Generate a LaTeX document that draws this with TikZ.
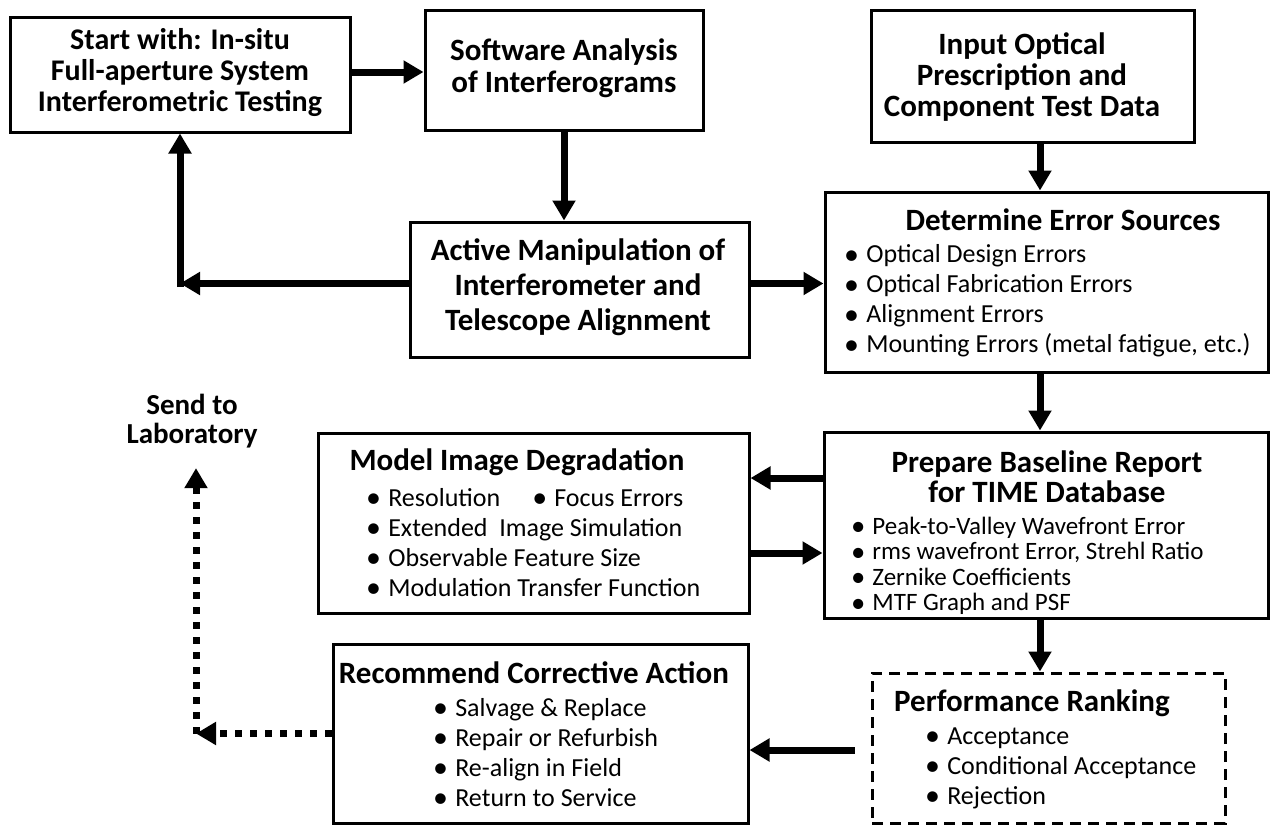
\documentclass[tikz,border=0pt]{standalone}
\usepackage{fontspec}
\usepackage{graphicx}
\setmainfont{Carlito}
\usetikzlibrary{arrows.meta,calc}
\newcommand{\itm}[1]{\makebox[0.85em][l]{\raisebox{-0.05em}{\scalebox{1.15}{\textbullet}}}#1}
\begin{document}
\begin{tikzpicture}[x=1pt,y=-1pt,
  box/.style={draw, line width=3pt, inner sep=0pt},
  dbox/.style={draw, line width=3pt, inner sep=0pt, dash pattern=on 11pt off 7pt},
  hd/.style={inner sep=0pt, align=center, font=\bfseries\fontsize{31}{31}\selectfont},
  ttl/.style={inner sep=0pt, align=center, font=\bfseries\fontsize{31}{30}\selectfont},
  lst/.style={inner sep=0pt, align=left, anchor=west, font=\fontsize{26}{30}\selectfont},
  arr/.style={line width=7pt, -{Triangle[length=20pt,width=22pt]}},
  darr/.style={line width=7pt, dash pattern=on 7pt off 8pt, -{Triangle[length=20pt,width=22pt]}}
]
\useasboundingbox (0,0) rectangle (1270,825);

% boxes
\node[box, minimum width=340pt, minimum height=115pt] (start) at (180,74.5) {};
\node[box, minimum width=278pt, minimum height=120pt] (soft) at (564,70) {};
\node[box, minimum width=323pt, minimum height=132pt] (inp) at (1032.5,76) {};
\node[box, minimum width=339pt, minimum height=135pt] (act) at (579.5,289.5) {};
\node[box, minimum width=443pt, minimum height=180pt] (det) at (1046.5,282) {};
\node[box, minimum width=431pt, minimum height=180pt] (model) at (533.5,523) {};
\node[box, minimum width=444pt, minimum height=186pt] (prep) at (1046,525) {};
\node[box, minimum width=415pt, minimum height=179pt] (rec) at (540.5,733.5) {};
\node[dbox, minimum width=353pt, minimum height=150pt] (perf) at (1048.5,748) {};

% texts
\node[hd, font=\bfseries\fontsize{30}{31}\selectfont] (startT) at (180,73) {Start with: In-situ\\Full-aperture System\\Interferometric Testing};
\node[hd, font=\bfseries\fontsize{31}{32}\selectfont] (softT) at (564,68) {Software Analysis\\of Interferograms};
\node[hd] (inpT) at (1022,77) {Input Optical\\Prescription and\\Component Test Data};
\node[hd, font=\bfseries\fontsize{31}{35}\selectfont] (actT) at (578,287) {Active Manipulation of\\Interferometer and\\Telescope Alignment};
\node[hd, font=\bfseries\fontsize{29}{29}\selectfont] (send) at (192,421) {Send to\\Laboratory};

\node[ttl] (detT) at (1063,220) {Determine Error Sources};
\node[lst] (detL) at (844,301) {\itm{Optical Design Errors}\\\itm{Optical Fabrication Errors}\\\itm{Alignment Errors}\\\itm{Mounting Errors (metal fatigue, etc.)}};

\node[ttl] (prepT) at (1047,477) {Prepare Baseline Report\\for TIME Database};
\node[lst, font=\fontsize{25}{25.5}\selectfont] (prepL) at (851,566) {\itm{Peak-to-Valley Wavefront Error}\\\itm{rms wavefront Error, Strehl Ratio}\\\itm{Zernike Coefficients}\\\itm{MTF Graph and PSF}};

\node[ttl] (modelT) at (517,462) {Model Image Degradation};
\node[lst] (modelL) at (366,543) {\itm{Resolution}\hspace{32pt}\itm{Focus Errors}\\\itm{Extended\ \ Image Simulation}\\\itm{Observable Feature Size}\\\itm{Modulation Transfer Function}};

\node[ttl] (recT) at (534,673) {Recommend Corrective Action};
\node[lst] (recL) at (433,753) {\itm{Salvage \& Replace}\\\itm{Repair or Refurbish}\\\itm{Re-align in Field}\\\itm{Return to Service}};

\node[ttl] (perfT) at (1032,703) {Performance Ranking};
\node[lst] (perfL) at (925,768) {\itm{Acceptance}\\\itm{Conditional Acceptance}\\\itm{Rejection}};

% corner coordinates
\coordinate (cornL) at (180,283.5);
\coordinate (cornD) at (196,733.5);

% connectors
\draw[arr] ([yshift=2.5pt]start.east) -- ([yshift=-2pt]soft.west);
\draw[arr] (soft.south) -- (soft.south |- act.north);
\draw[arr] ([xshift=7.5pt]inp.south) -- ([xshift=7.5pt]inp.south |- det.north);
\draw[arr] ([yshift=6pt]act.west) -- (cornL);
\draw[arr] ([yshift=-3.5pt]cornL) -- (start.south);
\draw[arr] ([yshift=6pt]act.east) -- ([yshift=6pt]act.east -| det.west);
\draw[arr] ([xshift=-6.5pt]det.south) -- ([xshift=-6.5pt]det.south |- prep.north);
\draw[arr] ([yshift=47pt]prep.west) -- ([yshift=47pt]prep.west -| model.east);
\draw[arr] ([yshift=-30pt]model.east) -- ([yshift=-30pt]model.east -| prep.west);
\draw[arr] ([xshift=-6pt]prep.south) -- ([xshift=-6pt]prep.south |- perf.north);
\draw[arr, shorten <=16pt] ([yshift=-2pt]perf.west) -- ([yshift=-2pt]perf.west -| rec.east);
\draw[darr] (rec.west) -- (cornD);
\draw[darr, shorten >=20pt] (cornD) -- (cornD |- send.south);
\end{tikzpicture}
\end{document}
